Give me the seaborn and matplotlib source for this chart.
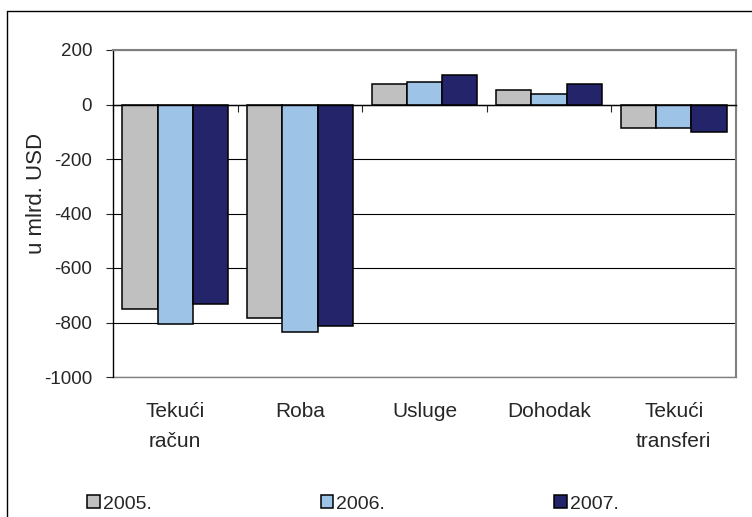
import numpy as np
import pandas as pd
import matplotlib
matplotlib.use("Agg")
import matplotlib.pyplot as plt
from matplotlib.lines import Line2D
import seaborn as sns

categories = ["Tekući\nračun", "Roba", "Usluge", "Dohodak", "Tekući\ntransferi"]
years = ["2005.", "2006.", "2007."]
vals_2005 = [-752, -785, 75, 52, -88]
vals_2006 = [-806, -834, 81, 40, -88]
vals_2007 = [-732, -812, 109, 75, -102]
colors = ["#C0C0C0", "#9DC3E6", "#24246B"]
yticks = [200, 0, -200, -400, -600, -800, -1000]

df = pd.DataFrame({
    "kategorija": categories * 3,
    "godina": [y for y in years for _ in categories],
    "vrijednost": vals_2005 + vals_2006 + vals_2007,
})

sns.set_style("white")
plt.rcParams["font.family"] = ["Liberation Sans", "DejaVu Sans"]

W, H = 752, 517
fig = plt.figure(figsize=(W / 100, H / 100), dpi=100)
ax = fig.add_axes([113 / W, 1 - 377 / H, (736 - 113) / W, (377 - 50) / H])

sns.barplot(data=df, x="kategorija", y="vrijednost", hue="godina",
            order=categories, hue_order=years, palette=colors, saturation=1,
            width=0.85, edgecolor="black", linewidth=1.1,
            errorbar=None, ax=ax)

handles, labels = ax.get_legend_handles_labels()
ax.get_legend().remove()

ax.set_ylim(-1000, 200)
ax.set_xlim(-0.5, len(categories) - 0.5)
ax.set_yticks(yticks)
ax.set_yticklabels([str(t) for t in yticks], fontsize=13.5)
ax.set_axisbelow(True)
ax.yaxis.grid(True, color="black", linewidth=0.8)
ax.tick_params(axis="y", direction="out", length=5, width=0.8, pad=10, left=True)

# x axis crosses at 0, ticks between categories
ax.spines["bottom"].set_position(("data", 0))
ax.spines["bottom"].set_color("black")
ax.spines["bottom"].set_linewidth(1.0)
ax.set_xticks(np.arange(-0.5, len(categories), 1))
ax.tick_params(axis="x", direction="out", length=5, width=0.8, bottom=True, labelbottom=False)
ax.spines["left"].set_color("black")
ax.spines["left"].set_linewidth(1.0)
for s in ["top", "right"]:
    ax.spines[s].set_visible(True)
    ax.spines[s].set_color("#808080")
    ax.spines[s].set_linewidth(1.5)

ax.set_xlabel("")
ax.set_ylabel("u mlrd. USD", fontsize=16, va="center")
ax.yaxis.set_label_coords((37 - 113) / 623, (377 - 193) / 327)

sec = ax.secondary_xaxis("bottom")
sec.set_xticks(range(len(categories)), labels=categories)
sec.tick_params(length=0, pad=18, labelsize=15)
for lab in sec.get_xticklabels():
    lab.set_linespacing(1.75)
sec.spines["bottom"].set_color("#808080")
sec.spines["bottom"].set_linewidth(1.0)

fig.legend(handles, labels, loc="center left",
           bbox_to_anchor=(87 / W, 1 - 504 / H), ncol=3, frameon=False,
           fontsize=14, handlelength=0.65, handleheight=0.65,
           handletextpad=0.15, columnspacing=8.7,
           borderpad=0, borderaxespad=0)

# outer border of the embedded chart
fig.add_artist(Line2D([7 / W, 7 / W], [0, 1 - 11 / H], transform=fig.transFigure,
                      color="black", linewidth=1))
fig.add_artist(Line2D([7 / W, 1], [1 - 11 / H, 1 - 11 / H], transform=fig.transFigure,
                      color="black", linewidth=1))

fig.savefig("out.png", dpi=100)
